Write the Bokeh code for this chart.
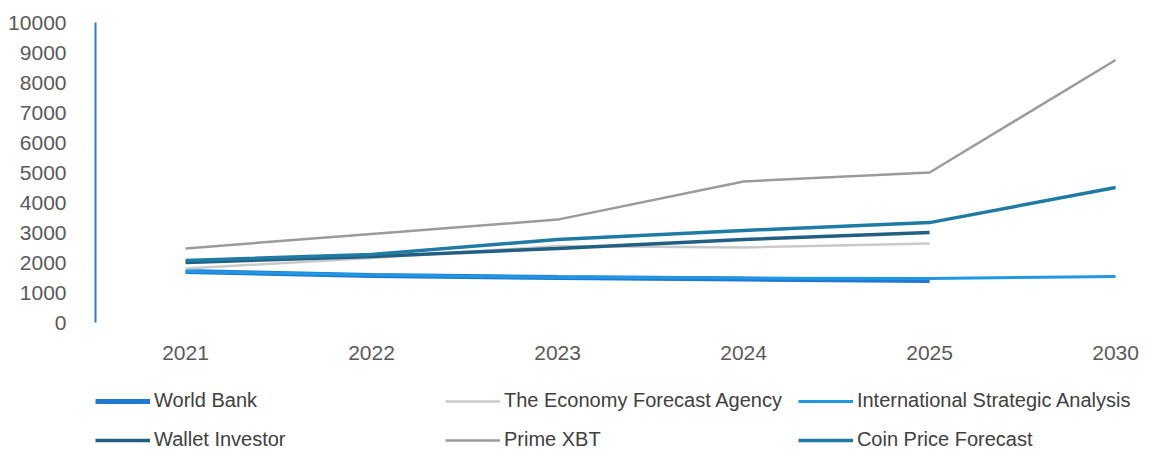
from bokeh.plotting import figure
from bokeh.models import Range1d, FixedTicker, Legend, LegendItem
from bokeh.core.properties import value
from bokeh.embed import file_html
from bokeh.resources import INLINE

nan = float("nan")
years = ["2021", "2022", "2023", "2024", "2025", "2030"]
world_bank = [1700, 1570, 1500, 1450, 1400, nan]
economy_forecast = [1800, 2150, 2550, 2500, 2630, nan]
intl_strategic = [1700, 1580, 1510, 1480, 1470, 1530]
wallet_investor = [2000, 2200, 2470, 2770, 3000, nan]
prime_xbt = [2470, 2950, 3430, 4700, 5000, 8750]
coin_price = [2070, 2270, 2770, 3070, 3330, 4500]
y_ticks = [0, 1000, 2000, 3000, 4000, 5000, 6000, 7000, 8000, 9000, 10000]

series = [
    ("World Bank", world_bank, "#1f78d1", 5),
    ("The Economy Forecast Agency", economy_forecast, "#c9c9c9", 2.5),
    ("International Strategic Analysis", intl_strategic, "#2196e3", 3),
    ("Wallet Investor", wallet_investor, "#235f80", 3.5),
    ("Prime XBT", prime_xbt, "#9b9b9b", 2.5),
    ("Coin Price Forecast", coin_price, "#1f7ba3", 3.5),
]

xs = list(range(len(years)))

p = figure(width=1143, height=451, output_backend="svg", toolbar_location=None,
           x_axis_location=None,
           x_range=Range1d(-0.484, 5.15), y_range=Range1d(-4300, 10000),
           min_border_left=95, min_border_right=0, min_border_top=22, min_border_bottom=0)
p.outline_line_color = None
p.xgrid.visible = False
p.ygrid.visible = False
p.background_fill_color = "white"

items = []
for name, vals, color, w in series:
    r = p.line(xs, vals, line_color=color, line_width=w)
    items.append(LegendItem(label=name, renderers=[r]))

# category labels under the zero line
p.text(x=xs, y=[0] * len(xs), text=years, y_offset=30,
       text_font=value("Liberation Sans"), text_font_size="21px",
       text_color="#595959", text_align="center", text_baseline="middle")

p.yaxis.ticker = FixedTicker(ticks=y_ticks)
p.yaxis.bounds = (0, 10000)
p.yaxis.axis_line_color = "#2a7bd0"
p.yaxis.axis_line_width = 2
p.yaxis.major_tick_line_color = None
p.yaxis.minor_tick_line_color = None
p.yaxis.major_label_standoff = 23
p.yaxis.major_label_text_font = "Liberation Sans"
p.yaxis.major_label_text_font_size = "21px"
p.yaxis.major_label_text_color = "#595959"

legend = Legend(items=items, ncols=3, orientation="horizontal",
                location=(0, 0), margin=0, padding=0, spacing=16,
                glyph_width=55, glyph_height=22, label_height=22,
                label_width=275, label_standoff=4,
                label_text_font="Liberation Sans", label_text_font_size="20px",
                label_text_color="#404040",
                border_line_color=None, background_fill_alpha=0)
p.add_layout(legend, "center")

open("out.html", "w").write(file_html(p, INLINE))
